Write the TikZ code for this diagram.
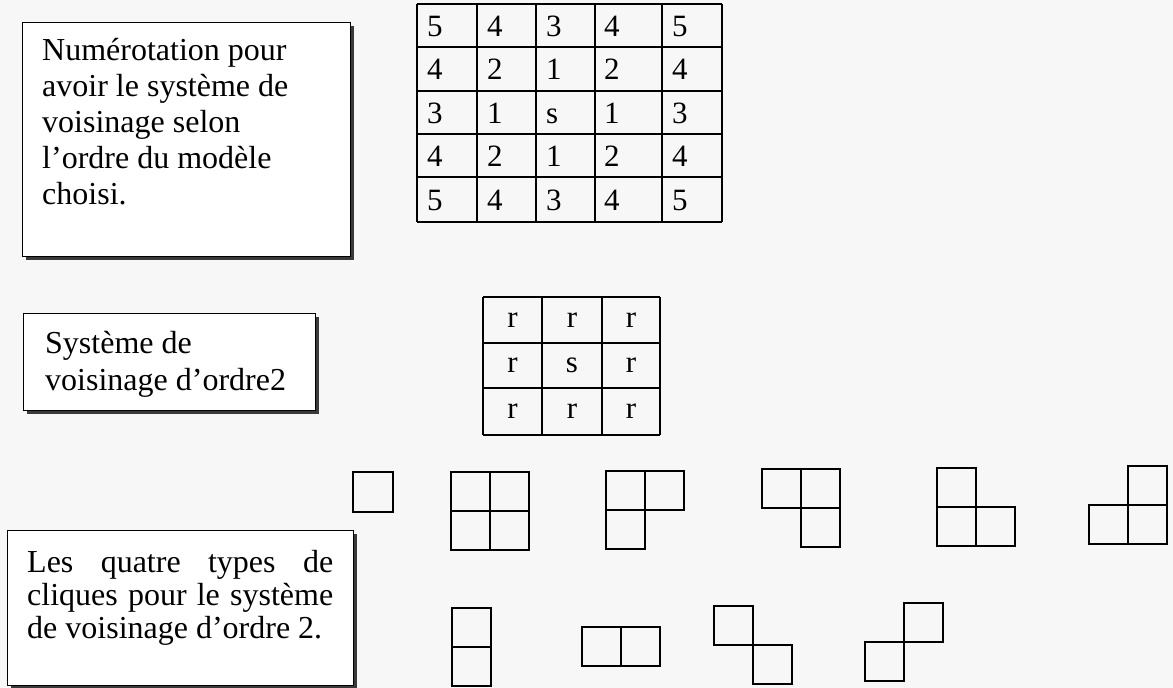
\documentclass[tikz,border=0pt]{standalone}
\usepackage{fontspec}
\setmainfont{Liberation Serif}
\usetikzlibrary{shadows}
\hbadness=10000
\begin{document}
\begin{tikzpicture}[x=1pt,y=-1pt,
  panel/.style={draw=black, line width=1.3pt, fill=white, inner sep=0pt, anchor=north west,
    drop shadow={shadow xshift=3.5pt, shadow yshift=-3.5pt, fill=black!85, opacity=0.9}},
  paneltext/.style={inner sep=0pt, anchor=north west, font=\fontsize{32}{36}\selectfont},
  grid/.style={draw=black, line width=1.3pt},
  celltext/.style={inner sep=0pt, font=\fontsize{31}{31}\selectfont},
  cq/.style={draw=black, line width=2.1pt}]
\newcommand\cliquecell[2]{\draw[cq] (#1,#2) rectangle ++(39,39);}
% page
\path[fill=black!3] (0,0) rectangle (1173,688);
\useasboundingbox (0,0) rectangle (1173,688);

% ---- panel 1
\node[panel, minimum width=328pt, minimum height=234pt] (b1) at (22,22) {};
\node[paneltext, align=left] (t1) at (42,38)
  {Numérotation pour\\avoir le système de\\voisinage selon\\l’ordre du modèle\\choisi.};

% ---- panel 2
\node[panel, minimum width=292pt, minimum height=97pt] (b2) at (23,313) {};
\node[paneltext, align=left, font=\fontsize{32}{37}\selectfont] (t2) at (45,331)
  {Système de\\voisinage d’ordre2};

% ---- panel 3
\node[panel, minimum width=346pt, minimum height=155pt] (b3) at (7,530) {};
\node[paneltext, text width=306pt, align=justify, font=\fontsize{32}{33}\selectfont] (t3) at (27,550)
  {Les quatre types de\linebreak cliques pour le système\linebreak de voisinage d’ordre 2.};

% ---- table 1 (5x5)
\foreach \xx in {417,477,536,595,662,722} \draw[grid] (\xx,4) -- (\xx,222);
\foreach \yy in {4,47,91,134,177,222} \draw[grid] (417,\yy) -- (722,\yy);
\foreach \r/\yb/\a/\b/\c/\d/\e in {0/36/5/4/3/4/5, 1/79.5/4/2/1/2/4, 2/123/3/1/s/1/3, 3/166/4/2/1/2/4, 4/210/5/4/3/4/5}{
  \node[celltext, anchor=base west] (n\r a) at (427,\yb) {\a};
  \node[celltext, anchor=base west] (n\r b) at (487,\yb) {\b};
  \node[celltext, anchor=base west] (n\r c) at (546,\yb) {\c};
  \node[celltext, anchor=base west] (n\r d) at (604,\yb) {\d};
  \node[celltext, anchor=base west] (n\r e) at (672,\yb) {\e};
}

% ---- table 2 (3x3)
\foreach \xx in {483,542,602,660} \draw[grid] (\xx,297) -- (\xx,435);
\foreach \yy in {297,343,388,435} \draw[grid] (483,\yy) -- (660,\yy);
\foreach \r/\yc/\a/\b/\c in {0/320/r/r/r, 1/365.5/r/s/r, 2/411.5/r/r/r}{
  \node[celltext] (m\r a) at (512.5,\yc) {\a};
  \node[celltext] (m\r b) at (572,\yc) {\b};
  \node[celltext] (m\r c) at (631,\yc) {\c};
}

% ---- cliques, top row
\draw[cq] (353,472) rectangle ++(40,40);
\cliquecell{451}{472}\cliquecell{490}{472}\cliquecell{451}{511}\cliquecell{490}{511}
\cliquecell{606}{471}\cliquecell{645}{471}\cliquecell{606}{510}
\cliquecell{762}{469}\cliquecell{801}{469}\cliquecell{801}{508}
\cliquecell{937}{468}\cliquecell{937}{507}\cliquecell{976}{507}
\cliquecell{1128}{466}\cliquecell{1089}{505}\cliquecell{1128}{505}

% ---- cliques, bottom row
\cliquecell{452}{608}\cliquecell{452}{647}
\cliquecell{582}{627}\cliquecell{621}{627}
\cliquecell{714}{606}\cliquecell{753}{645}
\cliquecell{904}{603}\cliquecell{865}{642}
\end{tikzpicture}
\end{document}
